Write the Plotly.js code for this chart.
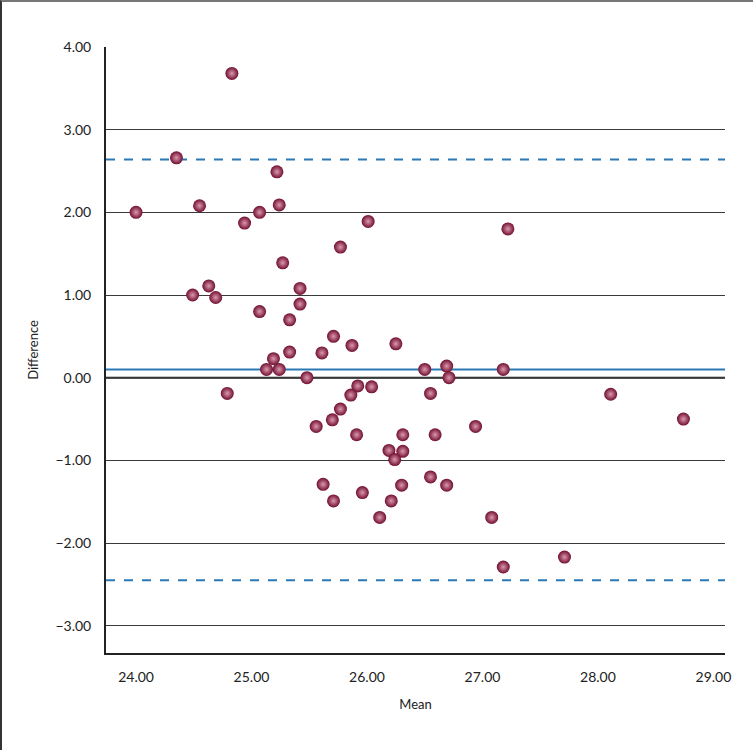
<!DOCTYPE html>
<html>
<head>
<meta charset="utf-8">
<script src="https://cdn.plot.ly/plotly-3.0.1.min.js"></script>
<style>
  html, body { margin: 0; padding: 0; background: #fff; }
  #frame { position: absolute; left: 0; top: 0; width: 753px; height: 750px;
           border-top: 2px solid #777; border-left: 2px solid #333; box-sizing: border-box; }
  #chart { position: absolute; left: 0; top: 0; width: 755px; height: 750px; }
</style>
</head>
<body>
<div id="chart"></div>
<div id="frame"></div>
<script>
// Bland-Altman data: mean of two measurements vs their difference
const meanValues = [
  24.00, 24.35, 24.83, 24.55, 24.49, 24.63, 24.69, 24.79, 24.94, 25.07,
  25.22, 25.24, 25.27, 25.07, 25.33, 25.42, 25.42, 25.19, 25.13, 25.24,
  25.33, 25.48, 26.01, 25.77, 27.22, 25.71, 25.61, 25.87, 26.25, 26.50,
  26.69, 26.71, 27.18, 25.92, 26.04, 25.86, 26.55, 25.77, 25.70, 25.56,
  25.91, 26.31, 26.59, 26.94, 26.19, 26.31, 26.24, 25.62, 26.55, 26.30,
  26.69, 25.96, 25.71, 26.21, 26.11, 27.08, 27.18, 28.11, 28.74, 27.71
];
const diffValues = [
   2.00,  2.66,  3.68,  2.08,  1.00,  1.11,  0.97, -0.19,  1.87,  2.00,
   2.49,  2.09,  1.39,  0.80,  0.70,  1.08,  0.89,  0.23,  0.10,  0.10,
   0.31,  0.00,  1.89,  1.58,  1.80,  0.50,  0.30,  0.39,  0.41,  0.10,
   0.14,  0.00,  0.10, -0.10, -0.11, -0.21, -0.19, -0.38, -0.51, -0.59,
  -0.69, -0.69, -0.69, -0.59, -0.88, -0.89, -0.99, -1.29, -1.20, -1.30,
  -1.30, -1.39, -1.49, -1.49, -1.69, -1.69, -2.29, -0.20, -0.50, -2.17
];
const meanDifference = 0.10;
const upperLimit = 2.64;
const lowerLimit = -2.45;
const xTicks = [24, 25, 26, 27, 28, 29];
const yTicks = [-3, -2, -1, 0, 1, 2, 3, 4];

const xRange = [23.74, 29.10];
const yRange = [-3.33, 4.0];

const blue = '#2a78b5';

const traces = [{
  x: meanValues,
  y: diffValues,
  type: 'scatter',
  mode: 'markers',
  marker: {
    size: 13,
    color: '#700f30',
    gradient: { type: 'radial', color: '#dc98ae' },
    line: { width: 0 }
  },
  hoverinfo: 'x+y',
  showlegend: false
}];

const shapes = [
  { type: 'line', xref: 'paper', x0: 0, x1: 1, yref: 'y', y0: 0, y1: 0,
    line: { color: '#111', width: 2 }, layer: 'below' },
  { type: 'line', xref: 'paper', x0: 0, x1: 1, yref: 'y', y0: meanDifference, y1: meanDifference,
    line: { color: blue, width: 2 }, layer: 'below' },
  { type: 'line', xref: 'paper', x0: 0, x1: 1, yref: 'y', y0: upperLimit, y1: upperLimit,
    line: { color: blue, width: 2, dash: 'dash' }, layer: 'below' },
  { type: 'line', xref: 'paper', x0: 0, x1: 1, yref: 'y', y0: lowerLimit, y1: lowerLimit,
    line: { color: blue, width: 2, dash: 'dash' }, layer: 'below' }
];

const font = { family: 'Lato, "Open Sans", sans-serif', size: 13, color: '#222' };

const layout = {
  width: 755,
  height: 750,
  margin: { l: 106, r: 30, t: 47, b: 97 },
  paper_bgcolor: '#fff',
  plot_bgcolor: '#fff',
  font: font,
  showlegend: false,
  xaxis: {
    range: xRange,
    tickvals: xTicks,
    tickformat: '.2f',
    showgrid: false,
    zeroline: false,
    showline: true,
    linecolor: '#222',
    linewidth: 2,
    ticks: 'outside',
    ticklen: 10,
    tickcolor: 'rgba(0,0,0,0)',
    tickfont: { size: 14 },
    title: { text: 'Mean', font: { size: 13 }, standoff: 16 },
    automargin: false,
    fixedrange: true
  },
  yaxis: {
    range: yRange,
    tickvals: yTicks,
    tickformat: '.2f',
    showgrid: true,
    gridcolor: '#3a3a3a',
    gridwidth: 1,
    zeroline: false,
    showline: true,
    linecolor: '#222',
    linewidth: 2,
    ticks: 'outside',
    ticklen: 10,
    tickcolor: 'rgba(0,0,0,0)',
    tickfont: { size: 14 },
    title: { text: 'Difference', font: { size: 13 }, standoff: 14 },
    automargin: false,
    fixedrange: true
  },
  shapes: shapes
};

Plotly.newPlot('chart', traces, layout, { displayModeBar: false, staticPlot: true });
</script>
</body>
</html>
